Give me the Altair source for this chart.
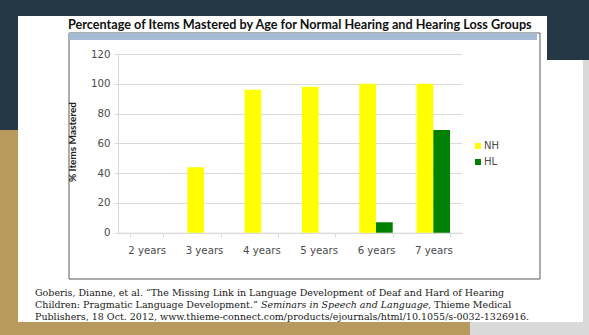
import altair as alt
import pandas as pd

# Percentage of items mastered, by age group
ages = ["2 years", "3 years", "4 years", "5 years", "6 years", "7 years"]
nh_values = [0, 44, 96, 98, 100, 100]
hl_values = [0, 0, 0, 0, 7, 69]
groups = ["NH", "HL"]
group_colors = ["#ffff00", "#008000"]
y_ticks = [0, 20, 40, 60, 80, 100, 120]

title_text = "Percentage of Items Mastered by Age for Normal Hearing and Hearing Loss Groups"
citation_1 = "Goberis, Dianne, et al. \u201cThe Missing Link in Language Development of Deaf and Hard of Hearing"
citation_2a = "Children: Pragmatic Language Development.\u201d"
citation_2b = "Seminars in Speech and Language"
citation_2c = ", Thieme Medical"
citation_3 = "Publishers, 18 Oct. 2012, www.thieme-connect.com/products/ejournals/html/10.1055/s-0032-1326916."

rows = []
for i, age in enumerate(ages):
    rows.append({"age": age, "group": "NH", "pct": nh_values[i]})
    rows.append({"age": age, "group": "HL", "pct": hl_values[i]})
df = pd.DataFrame(rows)

# plot-area geometry (pixels on the page)
OX, OY = 118, 54
W, H = 344, 178.7
PAGE_W, PAGE_H = 589, 335

NAVY = "#243943"
GOLD = "#b89a5e"
GREY = "#d9d9d9"
LABEL = "#4a4a4a"
CITE_FONT = "DejaVu Serif"
CITE_SIZE = 9.5


def px(v):
    return v - OX


def py(v):
    return v - OY


one = alt.Data(values=[{}])


def box(x1, x2, y1, y2, color, **kw):
    return alt.Chart(one).mark_rect(color=color, **kw).encode(
        x=alt.value(px(x1)), x2=alt.value(px(x2)),
        y=alt.value(py(y1)), y2=alt.value(py(y2)))


def label(text, x, y, **kw):
    return alt.Chart(one).mark_text(text=text, **kw).encode(
        x=alt.value(px(x)), y=alt.value(py(y)))


def cite(text, x, y, **kw):
    return label(text, x, y, align="left", baseline="middle", font=CITE_FONT,
                 fontSize=CITE_SIZE, color="#1a1a1a", **kw)


# slide frame around the white card
frame = [
    box(0, PAGE_W, 0, 16, NAVY),
    box(0, 18, 0, PAGE_H, NAVY),
    box(0, 18, 130, PAGE_H, GOLD),
    box(0, 470, 322, PAGE_H, GOLD),
    box(470, PAGE_W, 322, PAGE_H, GREY),
    box(583, PAGE_W, 16, PAGE_H, GREY),
    box(547, PAGE_W, 16, 60, NAVY),
]

# chart box and its header strip
chart_box = box(69, 540, 33, 279, "#ffffff", stroke="#595959", strokeWidth=1, fillOpacity=0)
header = box(69, 537, 33, 40, "#a5bbd3")

bars = alt.Chart(df).mark_bar().encode(
    x=alt.X("age:N", sort=ages,
            scale=alt.Scale(paddingInner=0.417, paddingOuter=0.2085),
            axis=alt.Axis(title=None, labelAngle=0, tickBand="extent",
                          domainColor=GREY, tickColor=GREY, tickSize=4,
                          labelFont="DejaVu Sans", labelFontSize=10.2, labelColor=LABEL,
                          labelPadding=9)),
    xOffset=alt.XOffset("group:N", sort=groups, scale=alt.Scale(paddingInner=0, paddingOuter=0)),
    y=alt.Y("pct:Q", scale=alt.Scale(domain=[0, 120], nice=False),
            axis=alt.Axis(title=None, values=y_ticks, grid=True, gridColor=GREY,
                          domainColor=GREY, tickColor=GREY, tickSize=4,
                          labelFont="DejaVu Sans", labelFontSize=10.2, labelColor=LABEL,
                          labelPadding=4)),
    color=alt.Color("group:N", sort=groups,
                    scale=alt.Scale(domain=groups, range=group_colors),
                    legend=alt.Legend(title=None, orient="none",
                                      legendX=px(473), legendY=py(141),
                                      symbolType="square", symbolSize=36,
                                      symbolStrokeWidth=0, rowPadding=6,
                                      labelFont="DejaVu Sans", labelFontSize=10,
                                      labelColor=LABEL, labelOffset=1)),
)

texts = [
    label(title_text, 68, 25, align="left", baseline="middle", font="Lato",
          fontSize=12.65, fontWeight="bold", color="#111111"),
    label("% Items Mastered", 73, 142, angle=270, align="center", baseline="middle",
          font="Lato", fontSize=10, fontWeight="bold", color="#222222"),
    cite(citation_1, 35, 293),
    cite(citation_2a, 35, 305),
    cite(citation_2b, 261, 305, fontStyle="italic"),
    cite(citation_2c, 428, 305),
    cite(citation_3, 35, 317),
]

chart = alt.layer(*frame, chart_box, header, bars, *texts).properties(
    width=W, height=H,
    background="#ffffff",
    autosize=alt.AutoSizeParams(type="none"),
    padding={"left": OX, "top": OY, "right": PAGE_W - OX - W, "bottom": PAGE_H - OY - H},
).configure_view(stroke=None)

chart.save("out.html", embed_options={"renderer": "svg", "actions": False})
